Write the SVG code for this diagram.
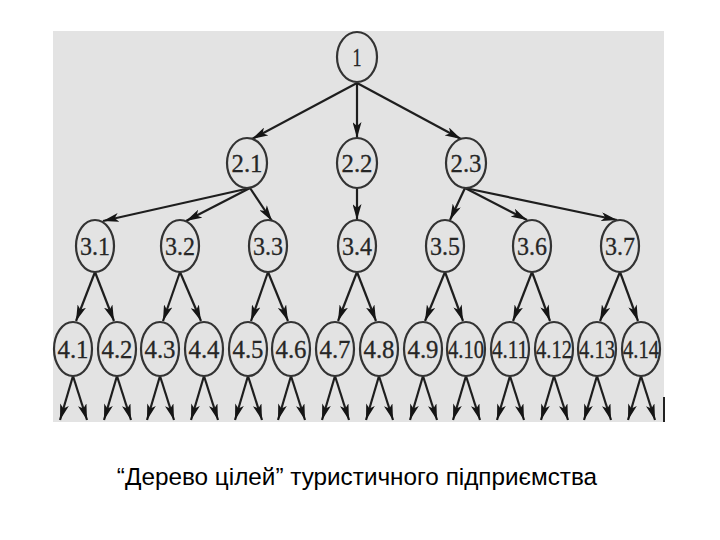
<svg xmlns="http://www.w3.org/2000/svg" width="720" height="540" viewBox="0 0 720 540">
<style>
.n ellipse{fill:none;stroke:#333;stroke-width:2.2}
.n text{font-family:"Liberation Serif","Times New Roman",serif;font-size:25px;fill:#262626;stroke:#262626;stroke-width:0.3;text-anchor:middle;dominant-baseline:central}
#edges line{stroke:#1e1e1e;stroke-width:2.2;marker-end:url(#ah)}
.cap{font-family:"Liberation Sans",Arial,sans-serif;font-size:24.3px;fill:#000;text-anchor:middle}
</style>
<defs>
<marker id="ah" markerUnits="userSpaceOnUse" markerWidth="16" markerHeight="9" refX="16" refY="4.5" orient="auto">
<path d="M0,0 L16,4.5 L0,9 L4,4.5 z" fill="#151515"/>
</marker>
</defs>
<rect x="0" y="0" width="720" height="540" fill="#fff"/>
<rect x="53" y="31" width="611" height="391" fill="#e3e3e3"/>
<line x1="664" y1="397" x2="664" y2="422" stroke="#222" stroke-width="2"/>
<g id="edges">
<line x1="357" y1="83" x2="252" y2="139"/>
<line x1="357" y1="83" x2="357" y2="138"/>
<line x1="357" y1="83" x2="461" y2="139"/>
<line x1="250" y1="188" x2="103" y2="221"/>
<line x1="250" y1="188" x2="186" y2="221"/>
<line x1="250" y1="188" x2="272" y2="221"/>
<line x1="357" y1="188" x2="357" y2="220"/>
<line x1="465" y1="188" x2="450" y2="220"/>
<line x1="465" y1="188" x2="527" y2="220"/>
<line x1="465" y1="188" x2="617" y2="220"/>
<line x1="95" y1="272" x2="76" y2="321"/>
<line x1="95" y1="272" x2="114" y2="321"/>
<line x1="180" y1="272" x2="163" y2="321"/>
<line x1="180" y1="272" x2="201" y2="321"/>
<line x1="268" y1="272" x2="251" y2="321"/>
<line x1="268" y1="272" x2="288" y2="321"/>
<line x1="357" y1="272" x2="338" y2="321"/>
<line x1="357" y1="272" x2="376" y2="321"/>
<line x1="445" y1="272" x2="425" y2="321"/>
<line x1="445" y1="272" x2="463" y2="321"/>
<line x1="532" y1="272" x2="513" y2="321"/>
<line x1="532" y1="272" x2="550" y2="321"/>
<line x1="620" y1="272" x2="600" y2="321"/>
<line x1="620" y1="272" x2="638" y2="321"/>
<line x1="73" y1="376" x2="60" y2="420"/><line x1="73" y1="376" x2="87" y2="420"/>
<line x1="117" y1="376" x2="104" y2="420"/><line x1="117" y1="376" x2="131" y2="420"/>
<line x1="160" y1="376" x2="147" y2="420"/><line x1="160" y1="376" x2="174" y2="420"/>
<line x1="204" y1="376" x2="191" y2="420"/><line x1="204" y1="376" x2="218" y2="420"/>
<line x1="248" y1="376" x2="235" y2="420"/><line x1="248" y1="376" x2="262" y2="420"/>
<line x1="291" y1="376" x2="278" y2="420"/><line x1="291" y1="376" x2="305" y2="420"/>
<line x1="335" y1="376" x2="322" y2="420"/><line x1="335" y1="376" x2="349" y2="420"/>
<line x1="379" y1="376" x2="366" y2="420"/><line x1="379" y1="376" x2="393" y2="420"/>
<line x1="423" y1="376" x2="410" y2="420"/><line x1="423" y1="376" x2="437" y2="420"/>
<line x1="466" y1="376" x2="453" y2="420"/><line x1="466" y1="376" x2="480" y2="420"/>
<line x1="510" y1="376" x2="497" y2="420"/><line x1="510" y1="376" x2="524" y2="420"/>
<line x1="554" y1="376" x2="541" y2="420"/><line x1="554" y1="376" x2="568" y2="420"/>
<line x1="597" y1="376" x2="584" y2="420"/><line x1="597" y1="376" x2="611" y2="420"/>
<line x1="641" y1="376" x2="628" y2="420"/><line x1="641" y1="376" x2="655" y2="420"/>
</g>
<g id="n1" class="n"><ellipse cx="357" cy="57" rx="20" ry="25"/><text x="357" y="57" textLength="9" lengthAdjust="spacingAndGlyphs">1</text></g>
<g id="n2_1" class="n"><ellipse cx="247" cy="163" rx="20" ry="25"/><text x="247" y="163" textLength="31" lengthAdjust="spacingAndGlyphs">2.1</text></g>
<g id="n2_2" class="n"><ellipse cx="357" cy="163" rx="20" ry="25"/><text x="357" y="163" textLength="31" lengthAdjust="spacingAndGlyphs">2.2</text></g>
<g id="n2_3" class="n"><ellipse cx="466" cy="163" rx="20" ry="25"/><text x="466" y="163" textLength="31" lengthAdjust="spacingAndGlyphs">2.3</text></g>
<g id="n3_1" class="n"><ellipse cx="95" cy="246" rx="19" ry="26"/><text x="95" y="246" textLength="30" lengthAdjust="spacingAndGlyphs">3.1</text></g>
<g id="n3_2" class="n"><ellipse cx="180" cy="246" rx="19" ry="26"/><text x="180" y="246" textLength="30" lengthAdjust="spacingAndGlyphs">3.2</text></g>
<g id="n3_3" class="n"><ellipse cx="268" cy="246" rx="19" ry="26"/><text x="268" y="246" textLength="30" lengthAdjust="spacingAndGlyphs">3.3</text></g>
<g id="n3_4" class="n"><ellipse cx="357" cy="246" rx="19" ry="26"/><text x="357" y="246" textLength="30" lengthAdjust="spacingAndGlyphs">3.4</text></g>
<g id="n3_5" class="n"><ellipse cx="445" cy="246" rx="19" ry="26"/><text x="445" y="246" textLength="30" lengthAdjust="spacingAndGlyphs">3.5</text></g>
<g id="n3_6" class="n"><ellipse cx="532" cy="246" rx="19" ry="26"/><text x="532" y="246" textLength="30" lengthAdjust="spacingAndGlyphs">3.6</text></g>
<g id="n3_7" class="n"><ellipse cx="620" cy="246" rx="19" ry="26"/><text x="620" y="246" textLength="30" lengthAdjust="spacingAndGlyphs">3.7</text></g>
<g id="n4_1" class="n"><ellipse cx="73" cy="349" rx="19" ry="27"/><text x="73" y="349" textLength="31" lengthAdjust="spacingAndGlyphs">4.1</text></g>
<g id="n4_2" class="n"><ellipse cx="117" cy="349" rx="19" ry="27"/><text x="117" y="349" textLength="31" lengthAdjust="spacingAndGlyphs">4.2</text></g>
<g id="n4_3" class="n"><ellipse cx="160" cy="349" rx="19" ry="27"/><text x="160" y="349" textLength="31" lengthAdjust="spacingAndGlyphs">4.3</text></g>
<g id="n4_4" class="n"><ellipse cx="204" cy="349" rx="19" ry="27"/><text x="204" y="349" textLength="31" lengthAdjust="spacingAndGlyphs">4.4</text></g>
<g id="n4_5" class="n"><ellipse cx="248" cy="349" rx="19" ry="27"/><text x="248" y="349" textLength="31" lengthAdjust="spacingAndGlyphs">4.5</text></g>
<g id="n4_6" class="n"><ellipse cx="291" cy="349" rx="19" ry="27"/><text x="291" y="349" textLength="31" lengthAdjust="spacingAndGlyphs">4.6</text></g>
<g id="n4_7" class="n"><ellipse cx="335" cy="349" rx="19" ry="27"/><text x="335" y="349" textLength="31" lengthAdjust="spacingAndGlyphs">4.7</text></g>
<g id="n4_8" class="n"><ellipse cx="379" cy="349" rx="19" ry="27"/><text x="379" y="349" textLength="31" lengthAdjust="spacingAndGlyphs">4.8</text></g>
<g id="n4_9" class="n"><ellipse cx="423" cy="349" rx="19" ry="27"/><text x="423" y="349" textLength="31" lengthAdjust="spacingAndGlyphs">4.9</text></g>
<g id="n4_10" class="n"><ellipse cx="466" cy="349" rx="19" ry="27"/><text x="466" y="349" textLength="36" lengthAdjust="spacingAndGlyphs">4.10</text></g>
<g id="n4_11" class="n"><ellipse cx="510" cy="349" rx="19" ry="27"/><text x="510" y="349" textLength="36" lengthAdjust="spacingAndGlyphs">4.11</text></g>
<g id="n4_12" class="n"><ellipse cx="554" cy="349" rx="19" ry="27"/><text x="554" y="349" textLength="36" lengthAdjust="spacingAndGlyphs">4.12</text></g>
<g id="n4_13" class="n"><ellipse cx="597" cy="349" rx="19" ry="27"/><text x="597" y="349" textLength="36" lengthAdjust="spacingAndGlyphs">4.13</text></g>
<g id="n4_14" class="n"><ellipse cx="641" cy="349" rx="19" ry="27"/><text x="641" y="349" textLength="36" lengthAdjust="spacingAndGlyphs">4.14</text></g>
<text class="cap" x="357" y="485">“Дерево цілей” туристичного підприємства</text>
</svg>
